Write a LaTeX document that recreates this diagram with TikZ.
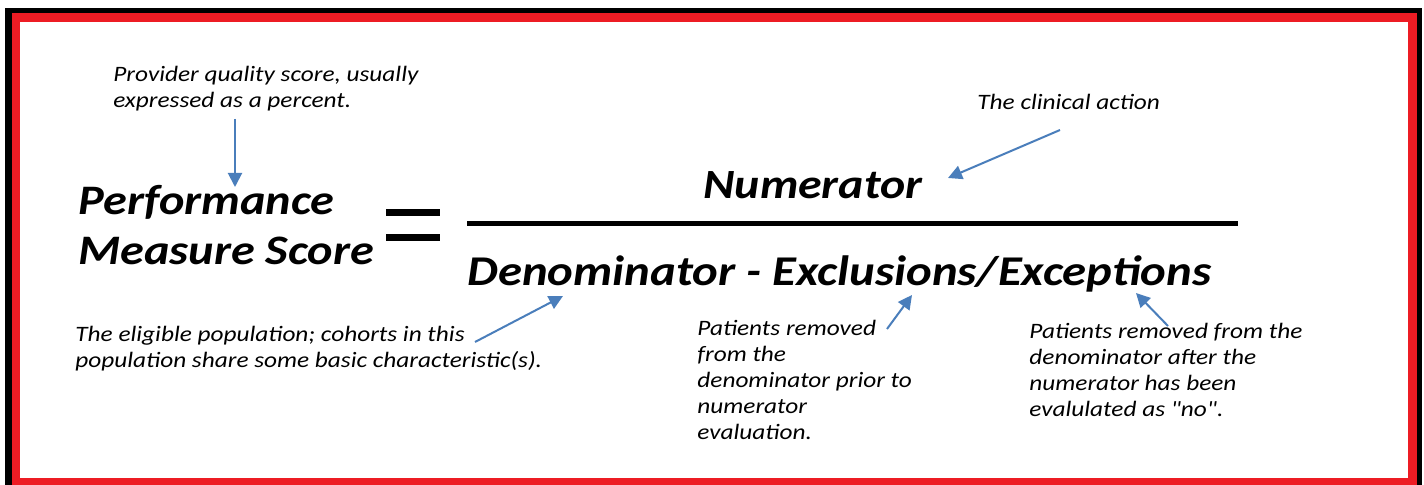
\documentclass[tikz,border=0pt]{standalone}
\usepackage{fontspec}
\setmainfont{Carlito}[FakeStretch=1.15]
\newfontfamily\plainq{Carlito}[FakeStretch=1.15]
\usetikzlibrary{arrows.meta}
\definecolor{frred}{HTML}{ED1C24}
\definecolor{arrblue}{HTML}{4A7EBB}
\begin{document}
\begin{tikzpicture}[x=0.5pt,y=-0.5pt,
  note/.style={anchor=base west,inner sep=0pt,align=left,font=\fontsize{11}{13}\selectfont\itshape},
  big/.style={anchor=base west,inner sep=0pt,align=left,font=\fontsize{21}{25}\selectfont\bfseries\itshape},
  pointer/.style={arrblue,line width=1pt,-{Triangle[length=7pt,width=7pt]}}]
\useasboundingbox (0,0) rectangle (1424,485);
% frame
\fill[black] (5,8) rectangle (1422,485);
\fill[frred] (12,13) rectangle (1417,485);
\fill[white] (20,22) rectangle (1408,478);
% main formula (anchor = baseline of the last line)
\node[big] (perf) at (78,265) {Performance\\Measure Score};
\fill[black] (386,209) rectangle (440,216);
\fill[black] (386,234) rectangle (440,241);
\node[big,font=\fontsize{20.8}{24}\selectfont\bfseries\itshape] (num) at (703,199) {Numerator};
\coordinate (barL) at (467,223.5);
\coordinate (barR) at (1238,223.5);
\draw[line width=2.3pt] (barL) -- (barR);
\node[big,font=\fontsize{21.2}{25}\selectfont\bfseries\itshape] (den) at (467,286) {Denominator - Exclusions/Exceptions};
% notes
\node[note] (prov) at (113,108) {Provider quality score, usually\\expressed as a percent.};
\node[note] (clin) at (977,110) {The clinical action};
\node[note] (elig) at (75,368) {The eligible population; cohorts in this\\population share some basic characteristic(s).};
\node[note] (excl) at (697,440) {Patients removed\\from the\\denominator prior to\\numerator\\evaluation.};
\node[note] (exce) at (1029,417) {Patients removed from the\\denominator after the\\numerator has been\\evalulated as {\plainq"}no{\plainq"}.};
% pointers
\coordinate (provT) at (235,119);
\coordinate (provH) at (235,187);
\coordinate (clinT) at (1060,130);
\coordinate (clinH) at (948,178);
\coordinate (eligT) at (475,342);
\coordinate (eligH) at (563,296);
\coordinate (exclT) at (887,329);
\coordinate (exclH) at (912,295);
\coordinate (exceT) at (1168,326);
\coordinate (exceH) at (1136,293);
\draw[pointer] (provT) -- (provH);
\draw[pointer] (clinT) -- (clinH);
\draw[pointer] (eligT) -- (eligH);
\draw[pointer] (exclT) -- (exclH);
\draw[pointer] (exceT) -- (exceH);
\end{tikzpicture}
\end{document}
